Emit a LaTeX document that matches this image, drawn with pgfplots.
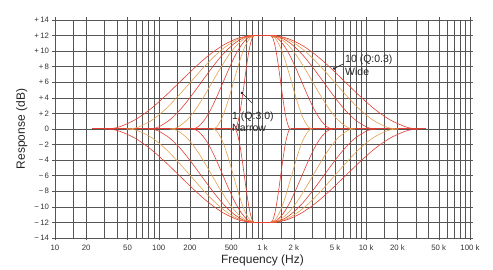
\documentclass[border=0pt]{standalone}
\usepackage{fontspec}
\setmainfont{Liberation Sans}
\usepackage{pgfplots}
\usepackage{pgfplotstable}
\pgfplotsset{compat=1.18}
\usetikzlibrary{arrows.meta}
\definecolor{cRed}{RGB}{226,62,50}
\definecolor{cOra}{RGB}{228,160,78}
\definecolor{gridc}{RGB}{85,85,85}

% x = log10(frequency in Hz), y = response in dB (boost curves)
\pgfplotstableread{
x y
2.73 0
2.7395 0.07
2.749 0.29
2.768 1.15
2.787 2.47
2.806 4.15
2.825 6.00
2.844 7.85
2.863 9.53
2.882 10.85
2.901 11.71
2.92 12
3.0 12
3.08 12
3.099 11.71
3.118 10.85
3.137 9.53
3.156 7.85
3.175 6.00
3.194 4.15
3.213 2.47
3.232 1.15
3.251 0.29
3.2605 0.07
3.27 0
}\Ba
\pgfplotstableread{
x y
2.52 0
2.54 0.07
2.56 0.29
2.60 1.15
2.64 2.47
2.68 4.15
2.72 6.00
2.76 7.85
2.80 9.53
2.84 10.85
2.88 11.71
2.92 12
3.0 12
3.08 12
3.12 11.71
3.16 10.85
3.20 9.53
3.24 7.85
3.28 6.00
3.32 4.15
3.36 2.47
3.40 1.15
3.44 0.29
3.46 0.07
3.48 0
}\Bb
\pgfplotstableread{
x y
2.32 0
2.35 0.07
2.38 0.29
2.44 1.15
2.50 2.47
2.56 4.15
2.62 6.00
2.68 7.85
2.74 9.53
2.80 10.85
2.86 11.71
2.92 12
3.0 12
3.08 12
3.14 11.71
3.20 10.85
3.26 9.53
3.32 7.85
3.38 6.00
3.44 4.15
3.50 2.47
3.56 1.15
3.62 0.29
3.65 0.07
3.68 0
}\Bc
\pgfplotstableread{
x y
2.11 0
2.1505 0.07
2.191 0.29
2.272 1.15
2.353 2.47
2.434 4.15
2.515 6.00
2.596 7.85
2.677 9.53
2.758 10.85
2.839 11.71
2.92 12
3.0 12
3.08 12
3.161 11.71
3.242 10.85
3.323 9.53
3.404 7.85
3.485 6.00
3.566 4.15
3.647 2.47
3.728 1.15
3.809 0.29
3.8495 0.07
3.89 0
}\Bd
\pgfplotstableread{
x y
1.90 0
1.951 0.07
2.002 0.29
2.104 1.15
2.206 2.47
2.308 4.15
2.41 6.00
2.512 7.85
2.614 9.53
2.716 10.85
2.818 11.71
2.92 12
3.0 12
3.08 12
3.182 11.71
3.284 10.85
3.386 9.53
3.488 7.85
3.59 6.00
3.692 4.15
3.794 2.47
3.896 1.15
3.998 0.29
4.049 0.07
4.10 0
}\Be
\pgfplotstableread{
x y
1.69 0
1.7515 0.07
1.813 0.29
1.936 1.15
2.059 2.47
2.182 4.15
2.305 6.00
2.428 7.85
2.551 9.53
2.674 10.85
2.797 11.71
2.92 12
3.0 12
3.08 12
3.203 11.71
3.326 10.85
3.449 9.53
3.572 7.85
3.695 6.00
3.818 4.15
3.941 2.47
4.064 1.15
4.187 0.29
4.2485 0.07
4.31 0
}\Bf
\pgfplotstableread{
x y
1.48 0
1.552 0.07
1.624 0.29
1.768 1.15
1.912 2.47
2.056 4.15
2.20 6.00
2.344 7.85
2.488 9.53
2.632 10.85
2.776 11.71
2.92 12
3.0 12
3.08 12
3.224 11.71
3.368 10.85
3.512 9.53
3.656 7.85
3.80 6.00
3.944 4.15
4.088 2.47
4.232 1.15
4.376 0.29
4.448 0.07
4.52 0
}\Bg
% cut curves
\pgfplotstableread{
x y
2.73 0
2.7395 -0.07
2.749 -0.29
2.768 -1.15
2.787 -2.47
2.806 -4.15
2.825 -6.00
2.844 -7.85
2.863 -9.53
2.882 -10.85
2.901 -11.71
2.92 -12
3.0 -12
3.08 -12
3.099 -11.71
3.118 -10.85
3.137 -9.53
3.156 -7.85
3.175 -6.00
3.194 -4.15
3.213 -2.47
3.232 -1.15
3.251 -0.29
3.2605 -0.07
3.27 0
}\Ca
\pgfplotstableread{
x y
2.52 0
2.54 -0.07
2.56 -0.29
2.60 -1.15
2.64 -2.47
2.68 -4.15
2.72 -6.00
2.76 -7.85
2.80 -9.53
2.84 -10.85
2.88 -11.71
2.92 -12
3.0 -12
3.08 -12
3.12 -11.71
3.16 -10.85
3.20 -9.53
3.24 -7.85
3.28 -6.00
3.32 -4.15
3.36 -2.47
3.40 -1.15
3.44 -0.29
3.46 -0.07
3.48 0
}\Cb
\pgfplotstableread{
x y
2.32 0
2.35 -0.07
2.38 -0.29
2.44 -1.15
2.50 -2.47
2.56 -4.15
2.62 -6.00
2.68 -7.85
2.74 -9.53
2.80 -10.85
2.86 -11.71
2.92 -12
3.0 -12
3.08 -12
3.14 -11.71
3.20 -10.85
3.26 -9.53
3.32 -7.85
3.38 -6.00
3.44 -4.15
3.50 -2.47
3.56 -1.15
3.62 -0.29
3.65 -0.07
3.68 0
}\Cc
\pgfplotstableread{
x y
2.11 0
2.1505 -0.07
2.191 -0.29
2.272 -1.15
2.353 -2.47
2.434 -4.15
2.515 -6.00
2.596 -7.85
2.677 -9.53
2.758 -10.85
2.839 -11.71
2.92 -12
3.0 -12
3.08 -12
3.161 -11.71
3.242 -10.85
3.323 -9.53
3.404 -7.85
3.485 -6.00
3.566 -4.15
3.647 -2.47
3.728 -1.15
3.809 -0.29
3.8495 -0.07
3.89 0
}\Cd
\pgfplotstableread{
x y
1.90 0
1.951 -0.07
2.002 -0.29
2.104 -1.15
2.206 -2.47
2.308 -4.15
2.41 -6.00
2.512 -7.85
2.614 -9.53
2.716 -10.85
2.818 -11.71
2.92 -12
3.0 -12
3.08 -12
3.182 -11.71
3.284 -10.85
3.386 -9.53
3.488 -7.85
3.59 -6.00
3.692 -4.15
3.794 -2.47
3.896 -1.15
3.998 -0.29
4.049 -0.07
4.10 0
}\Ce
\pgfplotstableread{
x y
1.69 0
1.7515 -0.07
1.813 -0.29
1.936 -1.15
2.059 -2.47
2.182 -4.15
2.305 -6.00
2.428 -7.85
2.551 -9.53
2.674 -10.85
2.797 -11.71
2.92 -12
3.0 -12
3.08 -12
3.203 -11.71
3.326 -10.85
3.449 -9.53
3.572 -7.85
3.695 -6.00
3.818 -4.15
3.941 -2.47
4.064 -1.15
4.187 -0.29
4.2485 -0.07
4.31 0
}\Cf
\pgfplotstableread{
x y
1.48 0
1.552 -0.07
1.624 -0.29
1.768 -1.15
1.912 -2.47
2.056 -4.15
2.20 -6.00
2.344 -7.85
2.488 -9.53
2.632 -10.85
2.776 -11.71
2.92 -12
3.0 -12
3.08 -12
3.224 -11.71
3.368 -10.85
3.512 -9.53
3.656 -7.85
3.80 -6.00
3.944 -4.15
4.088 -2.47
4.232 -1.15
4.376 -0.29
4.448 -0.07
4.52 0
}\Cg

\begin{document}
\begin{tikzpicture}
\begin{axis}[
  scale only axis, width=415pt, height=218pt,
  xmin=1, xmax=5, ymin=-14, ymax=14,
  xtick={1,1.30103,1.69897,2,2.30103,2.69897,3,3.30103,3.69897,4,4.30103,4.69897,5},
  xticklabels={10,20,50,100,200,500,1 k,2 k,5 k,10 k,20 k,50 k,100 k},
  minor xtick={1.17609,1.47712,1.60206,1.77815,1.84510,1.90309,1.95424,
               2.17609,2.47712,2.60206,2.77815,2.84510,2.90309,2.95424,
               3.17609,3.47712,3.60206,3.77815,3.84510,3.90309,3.95424,
               4.17609,4.47712,4.60206,4.77815,4.84510,4.90309,4.95424},
  ytick={-14,-12,-10,-8,-6,-4,-2,0,2,4,6,8,10,12,14},
  yticklabels={−\,14,−\,12,−\,10,−\,8,−\,6,−\,4,−\,2,0,+\,2,+\,4,+\,6,+\,8,+\,10,+\,12,+\,14},
  grid=both,
  major grid style={gridc, line width=0.45pt},
  minor grid style={gridc, line width=0.45pt},
  axis line style={gridc, line width=0.5pt},
  tick style={gridc, line width=0.45pt},
  major tick length=2.5pt, minor tick length=0pt,
  tick align=outside,
  tick label style={font=\fontsize{7.8}{8}\selectfont, text=black!80},
  xticklabel style={yshift=-1pt},
  xlabel={Frequency (Hz)}, ylabel={Response (dB)},
  label style={font=\fontsize{12}{13}\selectfont, text=black!85},
  xlabel style={at={(axis description cs:0.5,-0.105)}, anchor=center},
  ylabel style={at={(axis description cs:-0.08,0.5)}, anchor=center},
]
\addplot[cRed, line width=1pt] coordinates {(1.36,0) (2.73,0)};
\addplot[cRed, line width=1pt] coordinates {(3.27,0) (4.58,0)};
\addplot[cRed, line width=1.6pt] coordinates {(2.86,12) (3.14,12)};
\addplot[cRed, line width=1.6pt] coordinates {(2.86,-12) (3.14,-12)};
\addplot[cRed, line width=0.6pt, smooth] table {\Ba};
\addplot[cOra, line width=0.6pt, smooth] table {\Bb};
\addplot[cRed, line width=0.6pt, smooth] table {\Bc};
\addplot[cOra, line width=0.6pt, smooth] table {\Bd};
\addplot[cRed, line width=0.6pt, smooth] table {\Be};
\addplot[cOra, line width=0.6pt, smooth] table {\Bf};
\addplot[cRed, line width=0.6pt, smooth] table {\Bg};
\addplot[cRed, line width=0.6pt, smooth] table {\Ca};
\addplot[cOra, line width=0.6pt, smooth] table {\Cb};
\addplot[cRed, line width=0.6pt, smooth] table {\Cc};
\addplot[cOra, line width=0.6pt, smooth] table {\Cd};
\addplot[cRed, line width=0.6pt, smooth] table {\Ce};
\addplot[cOra, line width=0.6pt, smooth] table {\Cf};
\addplot[cRed, line width=0.6pt, smooth] table {\Cg};
% annotations
\draw[black!85, line width=0.6pt, {Circle[length=2.4pt]}-] (axis cs:3.68,7.7) -- (axis cs:3.776,8.34);
\node[anchor=west, font=\fontsize{10.5}{11}\selectfont, text=black!85, inner sep=0pt] at (axis cs:3.795,8.9) {10 (Q:0.3)};
\node[anchor=west, font=\fontsize{10.5}{11}\selectfont, text=black!85, inner sep=0pt] at (axis cs:3.795,7.4) {Wide};
\draw[black!85, line width=0.6pt, {Circle[length=2.4pt]}-] (axis cs:2.793,4.75) -- (axis cs:2.899,3.34);
\node[anchor=west, font=\fontsize{10.5}{11}\selectfont, text=black!85, inner sep=0pt] at (axis cs:2.706,1.6) {1 (Q:3.0)};
\node[anchor=west, font=\fontsize{10.5}{11}\selectfont, text=black!85, inner sep=0pt] at (axis cs:2.706,0.15) {Narrow};
\end{axis}
\path (current axis.south west) ++(-55pt,-30pt) coordinate (bl);
\path (current axis.north east) ++(23pt,20pt) coordinate (tr);
\path (bl) rectangle (tr);
\end{tikzpicture}
\end{document}
